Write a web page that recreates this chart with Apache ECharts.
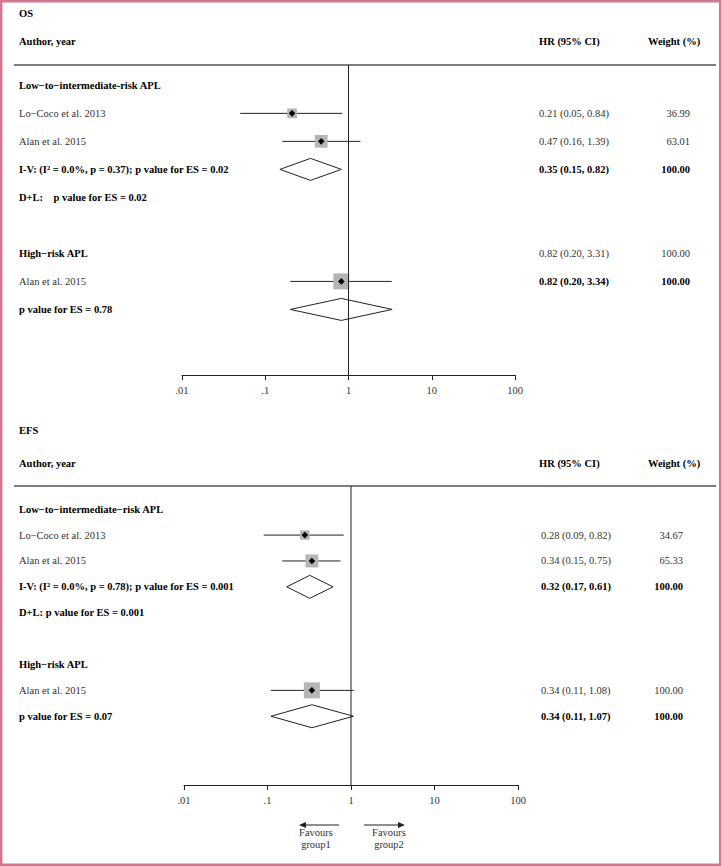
<!DOCTYPE html>
<html><head><meta charset="utf-8">
<script src="https://cdn.jsdelivr.net/npm/echarts@6/dist/echarts.min.js"></script>
<style>html,body{margin:0;padding:0;background:#fff}#c{width:722px;height:866px}</style>
</head><body><div id="c"></div>
<script>
// ================= DATA =================
const xTickLabels = ['.01', '.1', '1', '10', '100'];

// ---- OS panel ----
const osRowLabels = ['Low\u2212to\u2212intermediate-risk APL', 'Lo\u2212Coco et al. 2013', 'Alan et al. 2015',
  'I-V: (I\u00b2 = 0.0%, p = 0.37); p value for ES = 0.02', 'D+L:\u00a0\u00a0\u00a0\u00a0p value for ES = 0.02', '',
  'High\u2212risk APL', 'Alan et al. 2015', 'p value for ES = 0.78'];
const osRowBold = [1, 0, 0, 1, 1, 0, 1, 0, 1];
const osHRText = ['', '0.21 (0.05, 0.84)', '0.47 (0.16, 1.39)', '0.35 (0.15, 0.82)', '', '', '0.82 (0.20, 3.31)', '0.82 (0.20, 3.34)', ''];
const osHRBold = [0, 0, 0, 1, 0, 0, 0, 1, 0];
const osWeightText = ['', '36.99', '63.01', '100.00', '', '', '100.00', '100.00', ''];
const osWeightBold = [0, 0, 0, 1, 0, 0, 0, 1, 0];
const osStudyRows = [1, 2, 7];
const osStudyHR = [0.21, 0.47, 0.82];
const osStudyLo = [0.05, 0.16, 0.20];
const osStudyHi = [0.84, 1.39, 3.31];
const osStudyWeight = [36.99, 63.01, 100.00];
const osPoolRows = [3, 8];
const osPoolHR = [0.35, 0.82];
const osPoolLo = [0.15, 0.20];
const osPoolHi = [0.82, 3.34];

// ---- EFS panel ----
const efsRowLabels = ['Low\u2212to\u2212intermediate\u2212risk APL', 'Lo\u2212Coco et al. 2013', 'Alan et al. 2015',
  'I-V: (I\u00b2 = 0.0%, p = 0.78); p value for ES = 0.001', 'D+L: p value for ES = 0.001', '',
  'High\u2212risk APL', 'Alan et al. 2015', 'p value for ES = 0.07'];
const efsRowBold = [1, 0, 0, 1, 1, 0, 1, 0, 1];
const efsHRText = ['', '0.28 (0.09, 0.82)', '0.34 (0.15, 0.75)', '0.32 (0.17, 0.61)', '', '', '', '0.34 (0.11, 1.08)', '0.34 (0.11, 1.07)'];
const efsHRBold = [0, 0, 0, 1, 0, 0, 0, 0, 1];
const efsWeightText = ['', '34.67', '65.33', '100.00', '', '', '', '100.00', '100.00'];
const efsWeightBold = [0, 0, 0, 1, 0, 0, 0, 0, 1];
const efsStudyRows = [1, 2, 7];
const efsStudyHR = [0.28, 0.34, 0.34];
const efsStudyLo = [0.09, 0.15, 0.11];
const efsStudyHi = [0.82, 0.75, 1.08];
const efsStudyWeight = [34.67, 65.33, 100.00];
const efsPoolRows = [3, 8];
const efsPoolHR = [0.32, 0.34];
const efsPoolLo = [0.17, 0.11];
const efsPoolHi = [0.61, 1.07];

// ================= LAYOUT / STYLE =================
const FONT = '"Liberation Serif","Times New Roman",serif';
const FS = 10.5;
const LINE = '#222';
const TXT = '#333';

const panels = [
  { title: 'OS', labels: osRowLabels, labelBold: osRowBold, hr: osHRText, hrBold: osHRBold, wt: osWeightText, wtBold: osWeightBold,
    sRows: osStudyRows, sHR: osStudyHR, sLo: osStudyLo, sHi: osStudyHi, sW: osStudyWeight,
    pRows: osPoolRows, pHR: osPoolHR, pLo: osPoolLo, pHi: osPoolHi,
    L: { top: 65, bottom: 375, left: 182, right: 515, row0: 85.35, step: 28.01, textX: 19, hrX: 539, wtX: 690, diaH: 11,
         titleY: 13, headY: 41 } },
  { title: 'EFS', labels: efsRowLabels, labelBold: efsRowBold, hr: efsHRText, hrBold: efsHRBold, wt: efsWeightText, wtBold: efsWeightBold,
    sRows: efsStudyRows, sHR: efsStudyHR, sLo: efsStudyLo, sHi: efsStudyHi, sW: efsStudyWeight,
    pRows: efsPoolRows, pHR: efsPoolHR, pLo: efsPoolLo, pHi: efsPoolHi,
    L: { top: 486, bottom: 785, left: 184, right: 518, row0: 509.2, step: 25.88, textX: 19, hrX: 541, wtX: 683, diaH: 11.5,
         titleY: 430, headY: 463 } }
];

const rich = {
  b: { fontFamily: FONT, fontSize: FS, fontWeight: 'bold', color: '#000' },
  n: { fontFamily: FONT, fontSize: FS, color: TXT }
};
function idxOf(arr) { const r = []; arr.forEach((t, i) => { if (t) r.push(i); }); return r; }
function fmt(texts, bold) { return v => { const i = Math.round(v); return (bold[i] ? '{b|' : '{n|') + texts[i] + '}'; }; }

const grid = [], xAxis = [], yAxis = [], series = [], graphic = [];

graphic.push({ type: 'rect', shape: { x: 1.2, y: 1.2, width: 719, height: 863.5 },
  style: { fill: 'none', stroke: '#d0768f', lineWidth: 2.5 }, silent: true });

panels.forEach((P, p) => {
  const L = P.L;
  const yMin = -(L.row0 - L.top) / L.step;
  const yMax = (L.bottom - L.row0) / L.step;
  grid.push({ left: L.left, width: L.right - L.left, top: L.top, height: L.bottom - L.top });
  xAxis.push({
    type: 'log', logBase: 10, min: 0.01, max: 100, gridIndex: p, position: 'bottom',
    axisLine: { onZero: false, lineStyle: { color: LINE, width: 1 } },
    axisTick: { length: 5, lineStyle: { color: LINE } },
    minorTick: { show: false }, splitLine: { show: false },
    axisLabel: { fontFamily: FONT, fontSize: FS, color: TXT, margin: 10,
      formatter: v => xTickLabels[Math.round(Math.log10(v)) + 2] }
  });
  const yBase = { type: 'value', gridIndex: p, inverse: true, min: yMin, max: yMax,
    axisLine: { show: false, onZero: false }, axisTick: { show: false }, splitLine: { show: false } };
  yAxis.push(Object.assign({}, yBase, { position: 'left',
    axisLabel: { customValues: idxOf(P.labels), align: 'left', margin: L.left - L.textX,
      formatter: fmt(P.labels, P.labelBold), rich } }));
  yAxis.push(Object.assign({}, yBase, { position: 'right',
    axisLabel: { customValues: idxOf(P.hr), align: 'left', margin: L.hrX - L.right,
      formatter: fmt(P.hr, P.hrBold), rich } }));
  yAxis.push(Object.assign({}, yBase, { position: 'right',
    axisLabel: { customValues: idxOf(P.wt), align: 'right', margin: L.wtX - L.right,
      formatter: fmt(P.wt, P.wtBold), rich } }));
  const yi = p * 3;

  // vertical line of no effect (x = 1)
  series.push({ type: 'line', xAxisIndex: p, yAxisIndex: yi, data: [[1, yMin], [1, yMax]],
    symbol: 'none', silent: true, lineStyle: { color: LINE, width: 1 } });

  // individual studies
  series.push({
    type: 'custom', xAxisIndex: p, yAxisIndex: yi, clip: false, silent: true,
    data: P.sRows.map((r, i) => [P.sHR[i], r, P.sLo[i], P.sHi[i], P.sW[i]]),
    encode: { x: 0, y: 1 },
    renderItem: (params, api) => {
      const c = api.coord([api.value(0), api.value(1)]);
      const lo = api.coord([api.value(2), api.value(1)]);
      const hi = api.coord([api.value(3), api.value(1)]);
      const s = 1.6 * Math.sqrt(api.value(4));
      const d = 3.3;
      return { type: 'group', children: [
        { type: 'line', shape: { x1: lo[0], y1: lo[1], x2: hi[0], y2: hi[1] }, style: { stroke: LINE, lineWidth: 1 } },
        { type: 'rect', shape: { x: c[0] - s / 2, y: c[1] - s / 2, width: s, height: s }, style: { fill: '#b5b5b5' } },
        { type: 'polygon', shape: { points: [[c[0], c[1] - d], [c[0] + d, c[1]], [c[0], c[1] + d], [c[0] - d, c[1]]] }, style: { fill: '#000' } }
      ] };
    }
  });

  // pooled estimates (diamonds)
  series.push({
    type: 'custom', xAxisIndex: p, yAxisIndex: yi, clip: false, silent: true,
    data: P.pRows.map((r, i) => [P.pHR[i], r, P.pLo[i], P.pHi[i]]),
    encode: { x: 0, y: 1 },
    renderItem: (params, api) => {
      const c = api.coord([api.value(0), api.value(1)]);
      const lo = api.coord([api.value(2), api.value(1)]);
      const hi = api.coord([api.value(3), api.value(1)]);
      const h = L.diaH;
      return { type: 'polygon',
        shape: { points: [[lo[0], c[1]], [c[0], c[1] - h], [hi[0], c[1]], [c[0], c[1] + h]] },
        style: { fill: '#fff', stroke: LINE, lineWidth: 1 } };
    }
  });

  // header texts and rule
  const hs = (text, x, y, align) => ({ type: 'text', x, y, silent: true,
    style: { text, fontFamily: FONT, fontSize: FS, fontWeight: 'bold', fill: '#000', align: align || 'left', verticalAlign: 'middle' } });
  graphic.push(hs(P.title, 19, L.titleY));
  graphic.push(hs('Author, year', 19, L.headY));
  graphic.push(hs('HR (95% CI)', 539, L.headY));
  graphic.push(hs('Weight (%)', 648, L.headY));
  graphic.push({ type: 'line', silent: true, shape: { x1: 14, y1: L.top, x2: 716, y2: L.top },
    style: { stroke: '#555', lineWidth: 1.4 } });
});

// favours arrows (bottom)
const arrowY = 825;
graphic.push({ type: 'line', silent: true, shape: { x1: 339, y1: arrowY, x2: 304, y2: arrowY }, style: { stroke: LINE, lineWidth: 1 } });
graphic.push({ type: 'polygon', silent: true, shape: { points: [[299, arrowY], [306, arrowY - 3], [306, arrowY + 3]] }, style: { fill: LINE } });
graphic.push({ type: 'line', silent: true, shape: { x1: 364, y1: arrowY, x2: 400, y2: arrowY }, style: { stroke: LINE, lineWidth: 1 } });
graphic.push({ type: 'polygon', silent: true, shape: { points: [[405, arrowY], [398, arrowY - 3], [398, arrowY + 3]] }, style: { fill: LINE } });
const ft = (text, x, y) => ({ type: 'text', x, y, silent: true,
  style: { text, fontFamily: FONT, fontSize: FS, fill: TXT, align: 'center', verticalAlign: 'middle' } });
graphic.push(ft('Favours', 316, 832));
graphic.push(ft('group1', 316, 844));
graphic.push(ft('Favours', 389, 832));
graphic.push(ft('group2', 389, 844));

const chart = echarts.init(document.getElementById('c'), null, { renderer: 'svg' });
chart.setOption({ animation: false, backgroundColor: '#fff', grid, xAxis, yAxis, series, graphic });
</script>
</body></html>
